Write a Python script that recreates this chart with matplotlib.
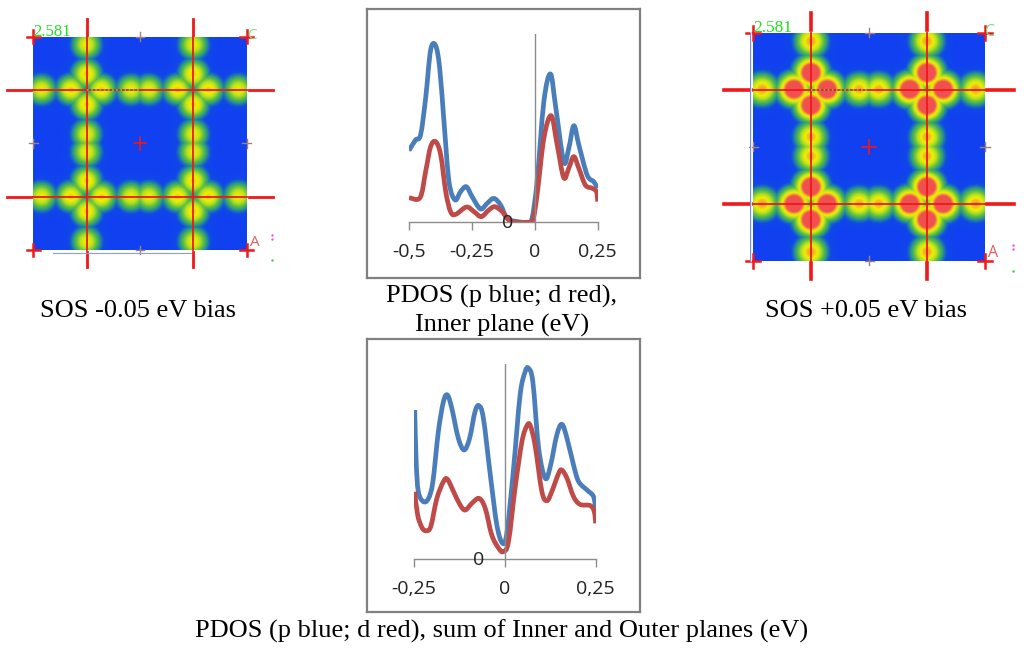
import numpy as np
import matplotlib
matplotlib.use("Agg")
from matplotlib import pyplot as plt
from matplotlib.colors import LinearSegmentedColormap
from matplotlib.patches import PathPatch
from matplotlib.path import Path

W, H = 1024, 648

# density maps: blob positions along each red line, and blob strength
line_pos = [0.25, 0.75]
blob_t = [0.04, 0.177, 0.32, 0.458, 0.542, 0.676, 0.82, 0.96]
left_amp = [0.72, 0.8, 0.8, 0.72, 0.72, 0.8, 0.8, 0.72]
right_amp = [0.88, 1.35, 1.35, 0.86, 0.86, 1.35, 1.35, 0.88]
# faint streaks between the arms round each crossing
streak_off = [-0.052, 0.052]
left_streak = 0.42
right_streak = 0.5

# PDOS inner plane
inner_blue_x = [-0.5, -0.474, -0.454, -0.434, -0.414, -0.394, -0.378, -0.361, -0.341, -0.317, -0.295, -0.272,
                -0.249, -0.216, -0.189, -0.163, -0.136, -0.110, -0.070, -0.030, -0.011, 0.009, 0.036, 0.062,
                0.082, 0.115, 0.135, 0.155, 0.175, 0.208, 0.234, 0.25]
inner_blue_y = [38.1, 43.7, 46.4, 65.8, 91.5, 93.8, 81.8, 53.5, 21.6, 11.9, 16.3, 18.9,
                13.6, 7.1, 10.1, 12.7, 9.2, 2.1, 0.4, 0, 2.1, 21.6, 64.1, 78.8,
                62.3, 32.2, 39.3, 51.3, 41.1, 25.1, 21.6, 18.1]
inner_red_x = [-0.5, -0.456, -0.434, -0.414, -0.394, -0.374, -0.354, -0.335, -0.315, -0.272, -0.242, -0.213,
               -0.183, -0.159, -0.130, -0.103, -0.070, -0.030, -0.008, 0.009, 0.036, 0.065, 0.089, 0.115,
               0.135, 0.155, 0.175, 0.201, 0.228, 0.245, 0.25]
inner_red_y = [13.1, 13.1, 26.9, 40.2, 42.8, 35.8, 16.3, 5.7, 4.2, 8.1, 5.7, 3.0,
               6.5, 8.3, 5.7, 1.2, 0, 0, 1.2, 14.5, 44.6, 56.6, 41.1, 23.7,
               28.7, 34.9, 28.7, 19.8, 18.1, 16.3, 11.0]

# PDOS sum of planes
sum_blue_x = [-0.248, -0.244, -0.238, -0.224, -0.210, -0.198, -0.183, -0.169, -0.158, -0.146, -0.128, -0.112,
              -0.097, -0.082, -0.071, -0.059, -0.040, -0.022, -0.006, 0.006, 0.024, 0.042, 0.056, 0.065,
              0.077, 0.093, 0.111, 0.125, 0.143, 0.157, 0.171, 0.189, 0.203, 0.226, 0.244, 0.25]
sum_blue_y = [76.4, 49.9, 34.5, 29.4, 31.1, 39.7, 65.3, 80.7, 84.1, 77.3, 61.9, 55.9,
              61.9, 75.6, 78.6, 72.1, 43.1, 17.4, 8.0, 14.0, 46.5, 84.1, 96.1, 97.8,
              90.9, 56.8, 41.4, 47.4, 63.6, 69.1, 61.9, 48.2, 39.7, 35.4, 32.0, 25.1]
sum_red_x = [-0.248, -0.240, -0.228, -0.217, -0.204, -0.187, -0.169, -0.158, -0.141, -0.123, -0.109, -0.091,
             -0.071, -0.054, -0.036, -0.017, -0.004, 0.010, 0.028, 0.047, 0.061, 0.070, 0.083, 0.102,
             0.116, 0.129, 0.148, 0.157, 0.171, 0.189, 0.207, 0.235, 0.246, 0.25]
sum_red_y = [34.5, 22.6, 16.1, 14.5, 16.6, 31.1, 39.7, 40.9, 34.5, 27.7, 25.1, 28.5,
             31.1, 26.0, 12.3, 5.5, 3.8, 8.9, 36.2, 60.2, 68.4, 68.4, 58.5, 34.5,
             29.9, 34.5, 43.9, 45.6, 41.4, 32.0, 28.0, 27.4, 24.3, 18.3]

BLUE = "#4a7ebb"
RED = "#be4b48"
AXIS_GRAY = "#8c8c8c"
FRAME_GRAY = "#808080"
SERIF = "Liberation Serif"
LABEL = "Open Sans"

cmap = LinearSegmentedColormap.from_list("sos", [
    (0.0, "#1040f0"), (0.13, "#1048e8"), (0.28, "#2c9c80"), (0.42, "#60c040"), (0.58, "#b8e020"),
    (0.74, "#f0f000"), (0.88, "#f0a030"), (1.0, "#f05050")])

fig = plt.figure(figsize=(W / 100, H / 100), dpi=100, facecolor="white")


def px_axes(x0, y0, x1, y1):
    return fig.add_axes([x0 / W, 1 - y1 / H, (x1 - x0) / W, (y1 - y0) / H])


def draw_map(box, amps, streak, sigma, thick, label_size):
    ax = px_axes(*box)
    n = 300
    u = (np.arange(n) + 0.5) / n
    xx, yy = np.meshgrid(u, u)
    field = np.zeros((n, n))
    for p in line_pos:
        for t, a in zip(blob_t, amps):
            field = np.maximum(field, a * np.exp(-((xx - t) ** 2 + (yy - p) ** 2) / (2 * sigma ** 2)))
            field = np.maximum(field, a * np.exp(-((xx - p) ** 2 + (yy - t) ** 2) / (2 * sigma ** 2)))
        for q in line_pos:
            for dx in streak_off:
                for dy in streak_off:
                    field = np.maximum(field, streak * np.exp(-((xx - q - dx) ** 2 + (yy - p - dy) ** 2) / (2 * 0.016 ** 2)))
    ax.imshow(field, cmap=cmap, vmin=0, vmax=1, extent=(0, 1, 1, 0), interpolation="bilinear", aspect="auto")
    ax.axis("off")
    red = "#f01818"
    for p in line_pos:
        ax.plot([0, 1], [p, p], color=red, lw=1.3, clip_on=False)
        ax.plot([p, p], [0, 1], color=red, lw=1.3, clip_on=False)
        ax.plot([-0.125, -0.01], [p, p], color=red, lw=thick, clip_on=False)
        ax.plot([1.01, 1.125], [p, p], color=red, lw=thick, clip_on=False)
        ax.plot([p, p], [-0.085, -0.01], color=red, lw=thick, clip_on=False)
        ax.plot([p, p], [1.01, 1.08], color=red, lw=thick, clip_on=False)
    # corner and centre crosses
    for cx, cy in [(0, 0), (1, 0), (0, 1), (1, 1)]:
        ax.plot([cx - 0.03, cx + 0.03], [cy, cy], color=red, lw=1.8, clip_on=False)
        ax.plot([cx, cx], [cy - 0.03, cy + 0.03], color=red, lw=1.8, clip_on=False)
    ax.plot([0.47, 0.53], [0.5, 0.5], color=red, lw=1.2, clip_on=False)
    ax.plot([0.5, 0.5], [0.47, 0.53], color=red, lw=1.2, clip_on=False)
    # small grey side marks
    for cx, cy in [(0.5, 0), (0.5, 1), (0, 0.5), (1, 0.5)]:
        ax.plot([cx - 0.02, cx + 0.02], [cy, cy], color="#a08080", lw=1, clip_on=False)
        ax.plot([cx, cx], [cy - 0.02, cy + 0.02], color="#a08080", lw=1, clip_on=False)
    ax.plot([0.25, 0.5], [0.25, 0.25], color="#60d060", lw=1.2, ls=(0, (1, 1.5)), clip_on=False)
    ax.plot([1.12, 1.12], [0.93, 0.95], ls="none", marker=".", ms=1.5, color="#e060e0", clip_on=False)
    ax.plot([1.12], [1.045], ls="none", marker=".", ms=1.5, color="#40d040", clip_on=False)
    ax.text(0.0, -0.005, "2.581", color="#20e020", fontsize=label_size, family=SERIF, va="baseline", clip_on=False)
    ax.text(1.0, -0.005, "C", color="#80e080", fontsize=label_size - 1, family=LABEL, va="center", clip_on=False)
    ax.text(1.015, 1.0, "A", color="#e06060", fontsize=label_size - 1, family=LABEL, va="bottom", clip_on=False)
    ax.set_xlim(0, 1)
    ax.set_ylim(1, 0)
    return ax


def smooth_line(ax, xs, ys, color):
    # bezier through the read points, keeps the soft look of the spreadsheet curve
    pts = np.column_stack([xs, ys])
    verts = [pts[0]]
    codes = [Path.MOVETO]
    for i in range(len(pts) - 1):
        p0 = pts[max(i - 1, 0)]
        p1 = pts[i]
        p2 = pts[i + 1]
        p3 = pts[min(i + 2, len(pts) - 1)]
        verts += [p1 + (p2 - p0) / 6, p2 - (p3 - p1) / 6, p2]
        codes += [Path.CURVE4] * 3
    ax.add_patch(PathPatch(Path(verts, codes), fc="none", ec=color, lw=3.4, joinstyle="round", capstyle="butt"))


def draw_pdos(frame, plot_box, blue, red, xlim, ticks, zero_x):
    fr = px_axes(*frame)
    fr.set_xticks([])
    fr.set_yticks([])
    for s in fr.spines.values():
        s.set_color(FRAME_GRAY)
        s.set_linewidth(1.6)
    ax = px_axes(*plot_box)
    ax.patch.set_alpha(0)
    ax.set_xlim(*xlim)
    ax.set_ylim(0, 100)
    for side in ["top", "right", "left"]:
        ax.spines[side].set_visible(False)
    ax.spines["bottom"].set_color(AXIS_GRAY)
    ax.spines["bottom"].set_linewidth(1)
    ax.set_yticks([])
    ax.set_xticks(ticks)
    ax.set_xticklabels([f"{t:g}".replace(".", ",") for t in ticks], fontsize=14, family=LABEL, color="#222222")
    ax.tick_params(axis="x", direction="out", length=6, width=1, color=AXIS_GRAY, pad=9)
    ax.axvline(0, color=AXIS_GRAY, lw=1)
    smooth_line(ax, blue[0], blue[1], BLUE)
    smooth_line(ax, red[0], red[1], RED)
    ax.text(zero_x, -0.5, "0", fontsize=14, family=LABEL, color="#222222", ha="center", va="center")


left_map = draw_map((33.3, 36.7, 246.7, 250), left_amp, left_streak, 0.045, 2.0, 12)
left_map.plot([0.09, 0.74], [1.015, 1.015], color="#9098e8", lw=0.8, clip_on=False)
right_map = draw_map((753.3, 32.7, 985, 260.7), right_amp, right_streak, 0.045, 2.6, 12.5)
right_map.plot([-0.008, -0.008], [0, 1], color="#e8ecff", lw=1.2, clip_on=False)
right_map.plot([-0.016, -0.016], [0, 1], color="#7088e0", lw=0.7, clip_on=False)

draw_pdos((367, 9, 640, 278), (409, 34, 597.7, 222.3), (inner_blue_x, inner_blue_y), (inner_red_x, inner_red_y),
          (-0.5, 0.25), [-0.5, -0.25, 0, 0.25], -0.107)
draw_pdos((367, 339, 640, 612), (414, 364, 595.7, 559), (sum_blue_x, sum_blue_y), (sum_red_x, sum_red_y),
          (-0.25, 0.25), [-0.25, 0, 0.25], -0.073)

for x, y, s in [(138, 311, "SOS -0.05 eV bias"),
                (502, 296, "PDOS (p blue; d red),"),
                (502, 325, "Inner plane (eV)"),
                (866, 311, "SOS +0.05 eV bias"),
                (502, 631, "PDOS (p blue; d red), sum of Inner and Outer planes (eV)")]:
    fig.text(x / W, 1 - y / H, s, family=SERIF, fontsize=19, ha="center", va="center", color="black")

fig.savefig("out.png", dpi=100)
